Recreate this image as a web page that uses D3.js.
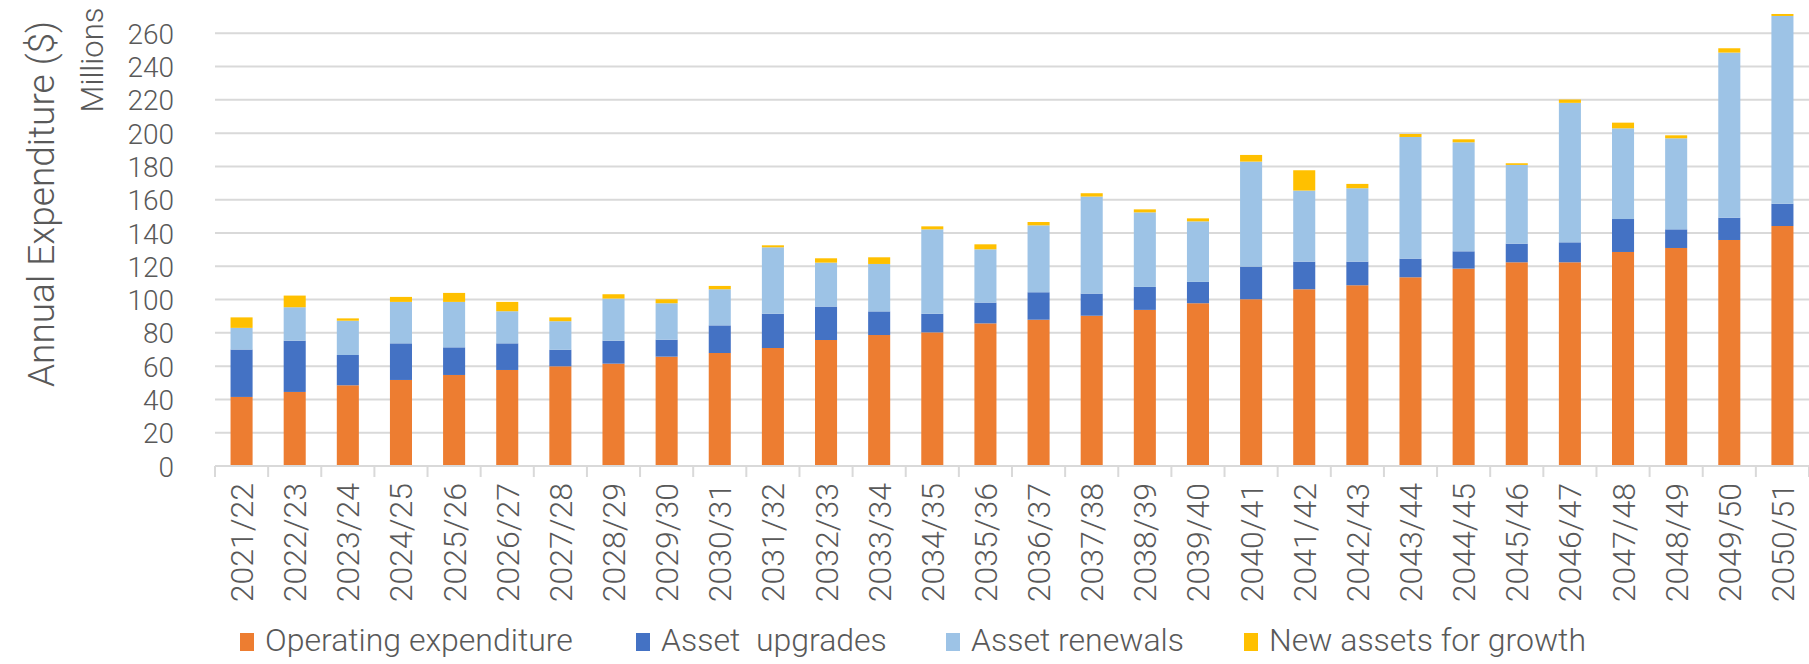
<!DOCTYPE html>
<html>
<head>
<meta charset="utf-8">
<script src="https://cdn.jsdelivr.net/npm/d3@7"></script>
<style>
  body { margin: 0; background: #fff; }
  text { font-family: Roboto, "Open Sans", sans-serif; font-weight: 300; fill: #595959; }
</style>
</head>
<body>
<div id="chart"></div>
<script>
var years = ["2021/22", "2022/23", "2023/24", "2024/25", "2025/26", "2026/27", "2027/28", "2028/29", "2029/30", "2030/31",
  "2031/32", "2032/33", "2033/34", "2034/35", "2035/36", "2036/37", "2037/38", "2038/39", "2039/40", "2040/41",
  "2041/42", "2042/43", "2043/44", "2044/45", "2045/46", "2046/47", "2047/48", "2048/49", "2049/50", "2050/51"];

// millions of dollars
var operating = [41.5, 44.5, 48.5, 51.7, 54.7, 57.7, 59.9, 61.5, 65.7, 67.9, 70.9, 75.7, 78.7, 80.3, 85.7,
  87.9, 90.3, 93.8, 97.8, 100.2, 106.2, 108.6, 113.4, 118.6, 122.4, 122.4, 128.6, 131, 135.8, 144.2];
var upgrades = [28.5, 30.8, 18.2, 22, 16.6, 16, 10, 13.8, 10.2, 16.6, 20.6, 20.1, 14.2, 11.2, 12.5,
  16.5, 13.3, 13.8, 12.8, 19.6, 16.6, 14.2, 11.2, 10.4, 11.2, 12, 19.8, 11.2, 13.4, 13.4];
var renewals = [13, 20.1, 20.6, 24.9, 27.3, 19.3, 17.1, 25.3, 21.9, 21.7, 39.9, 26.4, 28.5, 50.7, 32,
  40.2, 58.3, 44.8, 36.4, 63.1, 42.7, 44.1, 73.1, 65.5, 47.3, 83.8, 54.5, 54.7, 99.2, 112.8];
var growth = [6.3, 7, 1.4, 3, 5.4, 5.6, 2.3, 2.6, 2.4, 2, 1.2, 2.6, 4, 1.8, 3,
  2, 2, 1.8, 1.8, 4, 12.2, 2.6, 1.8, 1.8, 1, 2, 3.4, 1.8, 2.6, 1.2];

var seriesNames = ["Operating expenditure", "Asset  upgrades", "Asset renewals", "New assets for growth"];
var seriesColors = ["#ED7D31", "#4472C4", "#9DC3E6", "#FFC000"];
var yTicks = [0, 20, 40, 60, 80, 100, 120, 140, 160, 180, 200, 220, 240, 260];

var width = 1809, height = 664;
var plotLeft = 215, plotRight = 1809, plotTop = 0, plotBottom = 466;

var svg = d3.select("#chart").append("svg")
  .attr("width", width)
  .attr("height", height);

var x = d3.scaleBand()
  .domain(years)
  .range([plotLeft, plotRight])
  .paddingInner(0.585)
  .paddingOuter(0.2925);

var y = d3.scaleLinear()
  .domain([0, 280])
  .range([plotBottom, plotTop]);

// gridlines
svg.append("g")
  .selectAll("line")
  .data(yTicks)
  .join("line")
  .attr("x1", plotLeft)
  .attr("x2", plotRight)
  .attr("y1", function(d) { return y(d); })
  .attr("y2", function(d) { return y(d); })
  .attr("stroke", "#d9d9d9")
  .attr("stroke-width", 2);

// y axis labels
var yAxis = svg.append("g")
  .attr("transform", "translate(174,0)")
  .call(d3.axisLeft(y).tickValues(yTicks).tickSize(0).tickPadding(0));
yAxis.select(".domain").remove();
yAxis.selectAll("text")
  .attr("font-size", 28)
  .attr("dy", "0.36em")
  .style("font-family", "Roboto, 'Open Sans', sans-serif")
  .style("font-weight", 300)
  .attr("fill", "#595959");

// stacked bars
var rows = years.map(function(yr, i) {
  return { year: yr, op: operating[i], up: upgrades[i], ren: renewals[i], gr: growth[i] };
});
var stack = d3.stack().keys(["op", "up", "ren", "gr"])(rows);

svg.append("g")
  .selectAll("g")
  .data(stack)
  .join("g")
  .attr("fill", function(d, i) { return seriesColors[i]; })
  .selectAll("rect")
  .data(function(d) { return d; })
  .join("rect")
  .attr("x", function(d) { return x(d.data.year); })
  .attr("y", function(d) { return y(d[1]); })
  .attr("width", x.bandwidth())
  .attr("height", function(d) { return y(d[0]) - y(d[1]); });

// x axis
var xAxis = svg.append("g")
  .attr("transform", "translate(0," + plotBottom + ")");
xAxis.append("line")
  .attr("x1", plotLeft)
  .attr("x2", plotRight)
  .attr("stroke", "#d9d9d9")
  .attr("stroke-width", 2);
var step = x.step();
xAxis.selectAll(".tk")
  .data(d3.range(years.length + 1))
  .join("line")
  .attr("class", "tk")
  .attr("x1", function(d) { return plotLeft + d * step; })
  .attr("x2", function(d) { return plotLeft + d * step; })
  .attr("y1", 0)
  .attr("y2", 11)
  .attr("stroke", "#d9d9d9")
  .attr("stroke-width", 2);
xAxis.selectAll(".lbl")
  .data(years)
  .join("text")
  .attr("class", "lbl")
  .attr("transform", function(d) {
    return "translate(" + (x(d) + x.bandwidth() / 2) + ",17) rotate(-90)";
  })
  .attr("text-anchor", "end")
  .attr("dy", "0.36em")
  .attr("font-size", 32)
  .text(function(d) { return d; });

// axis titles
svg.append("text")
  .attr("transform", "translate(54,204) rotate(-90)")
  .attr("text-anchor", "middle")
  .attr("font-size", 37)
  .text("Annual Expenditure ($)");
svg.append("text")
  .attr("transform", "translate(103,60) rotate(-90)")
  .attr("text-anchor", "middle")
  .attr("font-size", 31)
  .text("Millions");

// legend
var legendX = [240, 636, 946, 1244];
var legend = svg.append("g")
  .selectAll("g")
  .data(seriesNames)
  .join("g")
  .attr("transform", function(d, i) { return "translate(" + legendX[i] + ",651)"; });
legend.append("rect")
  .attr("x", 0)
  .attr("y", -18)
  .attr("width", 14)
  .attr("height", 18)
  .attr("fill", function(d, i) { return seriesColors[i]; });
legend.append("text")
  .attr("x", 25)
  .attr("y", 0)
  .attr("font-size", 32)
  .attr("xml:space", "preserve")
  .style("white-space", "pre")
  .text(function(d) { return d; });
</script>
</body>
</html>
